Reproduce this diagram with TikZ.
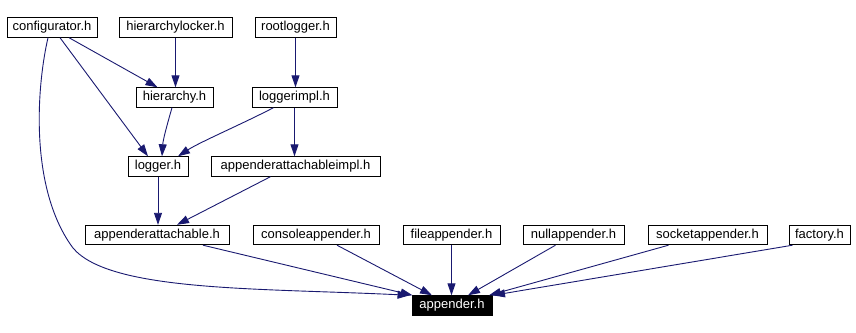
\documentclass[tikz,border=0pt]{standalone}
\usepackage{fontspec}
\setmainfont{Liberation Sans}
\usetikzlibrary{arrows.meta}
\definecolor{edgecol}{HTML}{191970}
\tikzset{
  box/.style={draw=black, line width=0.9pt, fill=white, inner sep=0pt, minimum height=19.5pt, font=\fontsize{13pt}{15pt}\selectfont, text=black},
  mainbox/.style={box, fill=black, text=white},
  dep/.style={draw=edgecol, line width=0.9pt, -{Triangle[length=12pt,width=8pt]}, fill=none},
}
\begin{document}
\begin{tikzpicture}[x=1pt,y=-1pt]
\useasboundingbox (0,0) rectangle (856,332);
\node[box, minimum width=90pt]  (configurator) at (52,27.5) {configurator.h};
\node[box, minimum width=113pt] (hierarchylocker) at (175.5,27.5) {hierarchylocker.h};
\node[box, minimum width=81pt]  (rootlogger) at (295.5,27.5) {rootlogger.h};
\node[box, minimum width=77pt]  (hierarchy) at (174.5,97.5) {hierarchy.h};
\node[box, minimum width=85pt]  (loggerimpl) at (294.5,97.5) {loggerimpl.h};
\node[box, minimum width=60pt]  (logger) at (158,166.5) {logger.h};
\node[box, minimum width=169pt] (appenderattachableimpl) at (295.5,166.5) {appenderattachableimpl.h};
\node[box, minimum width=144pt] (appenderattachable) at (157,235) {appenderattachable.h};
\node[box, minimum width=126pt] (consoleappender) at (316,235) {consoleappender.h};
\node[box, minimum width=97pt]  (fileappender) at (451.5,235) {fileappender.h};
\node[box, minimum width=101pt] (nullappender) at (573.5,235) {nullappender.h};
\node[box, minimum width=119pt] (socketappender) at (707.5,235) {socketappender.h};
\node[box, minimum width=61pt]  (factory) at (819.5,235) {factory.h};
\node[mainbox, minimum width=80pt] (appender) at (452,305.5) {appender.h};

\draw[dep] ([xshift=17pt]configurator.south) -- ([xshift=-17pt]hierarchy.north);
\draw[dep] ([xshift=8pt]configurator.south) -- ([xshift=-10pt]logger.north);
\draw[dep] ([xshift=-4pt]configurator.south) .. controls (36,90) and (30,190) .. (73,248)
   .. controls (110,292) and (260,288) .. ([xshift=-2pt]appender.north west);
\draw[dep] (hierarchylocker.south) -- (hierarchylocker.south |- hierarchy.north);
\draw[dep] (rootlogger.south) -- (rootlogger.south |- loggerimpl.north);
\draw[dep] ([xshift=-2.5pt]hierarchy.south) .. controls (167,125) and (163,140) .. ([xshift=4pt]logger.north);
\draw[dep] ([xshift=-21pt]loggerimpl.south) .. controls (240,125) and (200,142) .. ([xshift=20pt]logger.north);
\draw[dep] (loggerimpl.south) -- (loggerimpl.south |- appenderattachableimpl.north);
\draw[dep] (logger.south) -- (logger.south |- appenderattachable.north);
\draw[dep] ([xshift=-25pt]appenderattachableimpl.south) -- ([xshift=20pt]appenderattachable.north);
\draw[dep] ([xshift=46pt]appenderattachable.south) -- ([xshift=1pt]appender.north west);
\draw[dep] ([xshift=21pt]consoleappender.south) -- ([xshift=-20pt]appender.north);
\draw[dep] (fileappender.south) -- (fileappender.south |- appender.north);
\draw[dep] ([xshift=-18pt]nullappender.south) -- ([xshift=16pt]appender.north);
\draw[dep] ([xshift=-39pt]socketappender.south) -- ([xshift=37pt]appender.north);
\draw[dep] ([xshift=-27pt]factory.south) -- ([xshift=41pt]appender.north);
\end{tikzpicture}
\end{document}
